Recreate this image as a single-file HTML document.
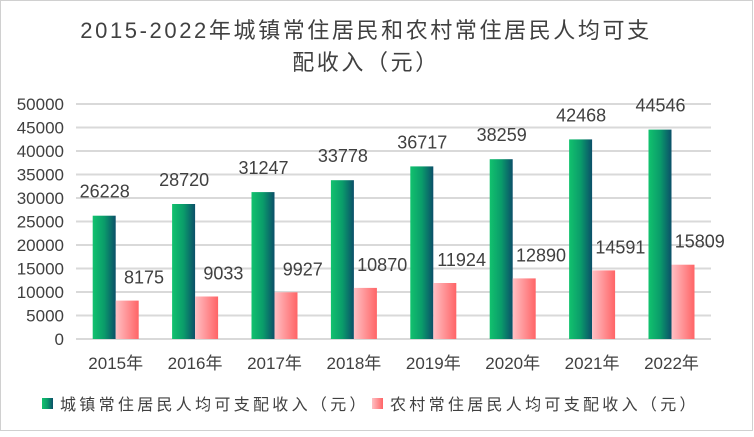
<!DOCTYPE html>
<html><head><meta charset="utf-8"><style>
body{margin:0;background:#fff;}
svg text{font-family:"Liberation Sans","Noto Sans CJK SC",sans-serif;fill:#404040;}
</style></head><body>
<svg width="754" height="432" xmlns="http://www.w3.org/2000/svg">
<defs>
<linearGradient id="g" x1="0" x2="1" y1="0" y2="0"><stop offset="0" stop-color="#12c26e"/><stop offset="0.5" stop-color="#0a9c6a"/><stop offset="1" stop-color="#0b4f69"/></linearGradient>
<linearGradient id="p" x1="0" x2="1" y1="0" y2="0"><stop offset="0" stop-color="#ffc0c4"/><stop offset="1" stop-color="#ff6466"/></linearGradient>
</defs>
<rect x="0.5" y="0.5" width="752" height="430" fill="#fff" stroke="#d0d0d0"/>
<text x="366" y="38" font-size="22" text-anchor="middle" letter-spacing="2.6">2015-2022年城镇常住居民和农村常住居民人均可支</text>
<text x="366" y="70" font-size="22" text-anchor="middle" letter-spacing="2.6">配收入（元）</text>
<g stroke="#d9d9d9" stroke-width="2">
<line x1="76" x2="711" y1="104" y2="104"/><line x1="76" x2="711" y1="127.5" y2="127.5"/><line x1="76" x2="711" y1="151" y2="151"/><line x1="76" x2="711" y1="174.5" y2="174.5"/><line x1="76" x2="711" y1="198" y2="198"/><line x1="76" x2="711" y1="221.5" y2="221.5"/><line x1="76" x2="711" y1="245" y2="245"/><line x1="76" x2="711" y1="268.5" y2="268.5"/><line x1="76" x2="711" y1="292" y2="292"/><line x1="76" x2="711" y1="315.5" y2="315.5"/><line x1="76" x2="711" y1="339" y2="339"/>
</g>
<g font-size="17" text-anchor="end">
<text x="64" y="110">50000</text><text x="64" y="133.5">45000</text><text x="64" y="157">40000</text><text x="64" y="180.5">35000</text><text x="64" y="204">30000</text><text x="64" y="227.5">25000</text><text x="64" y="251">20000</text><text x="64" y="274.5">15000</text><text x="64" y="298">10000</text><text x="64" y="321.5">5000</text><text x="64" y="345">0</text>
</g>
<g fill="url(#g)">
<rect x="92.7" y="215.7" width="23" height="123.3"/>
<rect x="172.1" y="204" width="23" height="135"/>
<rect x="251.5" y="192.1" width="23" height="146.9"/>
<rect x="330.9" y="180.2" width="23" height="158.8"/>
<rect x="410.3" y="166.4" width="23" height="172.6"/>
<rect x="489.7" y="159.2" width="23" height="179.8"/>
<rect x="569.1" y="139.4" width="23" height="199.6"/>
<rect x="648.5" y="129.6" width="23" height="209.4"/>
</g>
<g fill="url(#p)">
<rect x="115.7" y="300.6" width="23" height="38.4"/>
<rect x="195.1" y="296.5" width="23" height="42.5"/>
<rect x="274.5" y="292.3" width="23" height="46.7"/>
<rect x="353.9" y="287.9" width="23" height="51.1"/>
<rect x="433.3" y="283" width="23" height="56"/>
<rect x="512.7" y="278.4" width="23" height="60.6"/>
<rect x="592.1" y="270.4" width="23" height="68.6"/>
<rect x="671.5" y="264.7" width="23" height="74.3"/>
</g>
<g font-size="18" text-anchor="middle">
<text x="104.7" y="197.7">26228</text>
<text x="184.1" y="186">28720</text>
<text x="263.5" y="174.1">31247</text>
<text x="342.9" y="162.2">33778</text>
<text x="422.3" y="148.4">36717</text>
<text x="501.7" y="141.2">38259</text>
<text x="581.1" y="121.4">42468</text>
<text x="660.5" y="111.6">44546</text>
<text x="144" y="283.6">8175</text>
<text x="223.4" y="279.5">9033</text>
<text x="302.8" y="275.3">9927</text>
<text x="382.2" y="270.9">10870</text>
<text x="461.6" y="266">11924</text>
<text x="541" y="261.4">12890</text>
<text x="620.4" y="253.4">14591</text>
<text x="699.8" y="247.7">15809</text>
</g>
<g font-size="17" text-anchor="middle">
<text x="115.7" y="369">2015年</text>
<text x="195.1" y="369">2016年</text>
<text x="274.5" y="369">2017年</text>
<text x="353.9" y="369">2018年</text>
<text x="433.3" y="369">2019年</text>
<text x="512.7" y="369">2020年</text>
<text x="592.1" y="369">2021年</text>
<text x="671.5" y="369">2022年</text>
</g>
<rect x="42" y="398" width="11" height="11" fill="url(#g)"/>
<text x="60" y="410" font-size="16" letter-spacing="3.3">城镇常住居民人均可支配收入（元）</text>
<rect x="372" y="398" width="11" height="11" fill="url(#p)"/>
<text x="390" y="410" font-size="16" letter-spacing="3.3">农村常住居民人均可支配收入（元）</text>
</svg>
</body></html>
